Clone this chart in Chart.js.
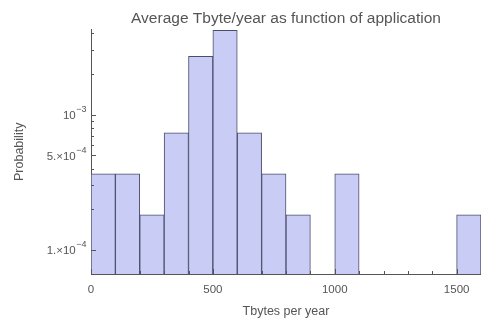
<!DOCTYPE html>
<html>
<head>
<meta charset="utf-8">
<script src="https://cdn.jsdelivr.net/npm/chart.js@4"></script>
<style>
  html, body { margin: 0; padding: 0; background: #fff; }
  #wrap { width: 481px; height: 320px; }
</style>
</head>
<body>
<div id="wrap"><canvas id="hist" width="481" height="320"></canvas></div>
<script>
// bin centers (Tbytes per year), bin width 100
const binCenters = [50, 150, 250, 350, 450, 550, 650, 750, 850, 950, 1050, 1150, 1250, 1350, 1450, 1550];
// probability density per bin (null = empty bin)
const probs = [3.66e-4, 3.66e-4, 1.82e-4, 7.35e-4, 2.70e-3, 4.20e-3, 7.35e-4, 3.66e-4, 1.82e-4, null, 3.66e-4, null, null, null, null, 1.82e-4];
// axis ticks
const yTicks = [1e-4, 2e-4, 3e-4, 4e-4, 5e-4, 6e-4, 7e-4, 8e-4, 9e-4, 1e-3, 2e-3, 3e-3, 4e-3];
// labelled y ticks: [value, mantissa part, exponent]
const yLabels = [[1e-4, '1.\u00d710', '\u22124'], [5e-4, '5.\u00d710', '\u22124'], [1e-3, '10', '\u22123']];
const xLabels = [0, 500, 1000, 1500];

const axisColor = '#555';
const textColor = '#555';
const fam = '"Liberation Sans", Arial, sans-serif';

const isYLabel = v => yLabels.some(l => Math.abs(l[0] - v) < v * 1e-6);

// 안쪽 눈금 + 지수 표기 라벨
const logAxisDeco = {
    id: 'logAxisDeco',
    afterDatasetsDraw(chart) {
        const ctx = chart.ctx;
        const xs = chart.scales.x, ys = chart.scales.y;
        ctx.save();
        ctx.strokeStyle = axisColor;
        ctx.lineWidth = 1;
        ctx.beginPath();
        xs.ticks.forEach(t => {
            const px = Math.round(xs.getPixelForValue(t.value)) + 0.5;
            const len = xLabels.includes(t.value) ? 5 : 3;
            ctx.moveTo(px, ys.bottom);
            ctx.lineTo(px, ys.bottom - len);
        });
        ys.ticks.forEach(t => {
            const py = Math.round(ys.getPixelForValue(t.value)) + 0.5;
            const len = isYLabel(t.value) ? 5 : 3;
            ctx.moveTo(xs.left, py);
            ctx.lineTo(xs.left + len, py);
        });
        ctx.stroke();

        // y 라벨: 기수 + 위첨자 지수
        ctx.fillStyle = textColor;
        ctx.textBaseline = 'middle';
        ctx.textAlign = 'left';
        const right = xs.left - 5;
        yLabels.forEach(([v, base, exp]) => {
            const py = ys.getPixelForValue(v);
            ctx.font = '11.5px ' + fam;
            const wb = ctx.measureText(base).width;
            ctx.font = '9px ' + fam;
            const we = ctx.measureText(exp).width;
            const x0 = right - wb - we;
            ctx.font = '11.5px ' + fam;
            ctx.fillText(base, x0, py + 1);
            ctx.font = '9px ' + fam;
            ctx.fillText(exp, x0 + wb + 0.5, py - 5);
        });
        ctx.restore();
    }
};

new Chart(document.getElementById('hist'), {
    type: 'bar',
    data: {
        datasets: [{
            data: binCenters.map((x, i) => ({ x: x, y: probs[i] })),
            backgroundColor: '#c9ccf4',
            borderColor: '#4b4d6e',
            borderWidth: 1,
            barPercentage: 1,
            categoryPercentage: 1
        }]
    },
    plugins: [logAxisDeco],
    options: {
        responsive: false,
        animation: false,
        layout: { padding: 0 },
        plugins: {
            legend: { display: false },
            tooltip: { enabled: false },
            title: {
                display: true,
                text: 'Average Tbyte/year as function of application',
                color: textColor,
                font: { family: fam, size: 15.5, weight: 'normal' },
                fullSize: false,
                padding: { top: 9, bottom: 2 }
            }
        },
        scales: {
            x: {
                type: 'linear',
                min: 0,
                max: 1600,
                offset: false,
                grid: { display: false },
                border: { display: true, color: axisColor },
                ticks: {
                    stepSize: 100,
                    autoSkip: false,
                    maxRotation: 0,
                    padding: 1,
                    color: textColor,
                    font: { family: fam, size: 11.5 },
                    callback: v => xLabels.includes(v) ? String(v) : ''
                },
                title: {
                    display: true,
                    text: 'Tbytes per year',
                    color: textColor,
                    font: { family: fam, size: 12.5 },
                    padding: { top: 4, bottom: 1 }
                },
                afterFit: s => { s.height = 46; s.paddingLeft = 0; s.paddingRight = 0; }
            },
            y: {
                type: 'logarithmic',
                min: 6.64e-5,
                max: 4.26e-3,
                grid: { display: false },
                border: { display: true, color: axisColor },
                afterBuildTicks: s => { s.ticks = yTicks.map(v => ({ value: v })); },
                ticks: {
                    autoSkip: false,
                    padding: 5,
                    color: textColor,
                    font: { family: fam, size: 11 },
                    callback: () => ''
                },
                title: {
                    display: true,
                    text: 'Probability',
                    color: textColor,
                    font: { family: fam, size: 12.5 },
                    padding: { top: 12, bottom: 0 }
                },
                afterFit: s => { s.width = 91; s.paddingTop = 0; s.paddingBottom = 0; }
            }
        }
    }
});
</script>
</body>
</html>
